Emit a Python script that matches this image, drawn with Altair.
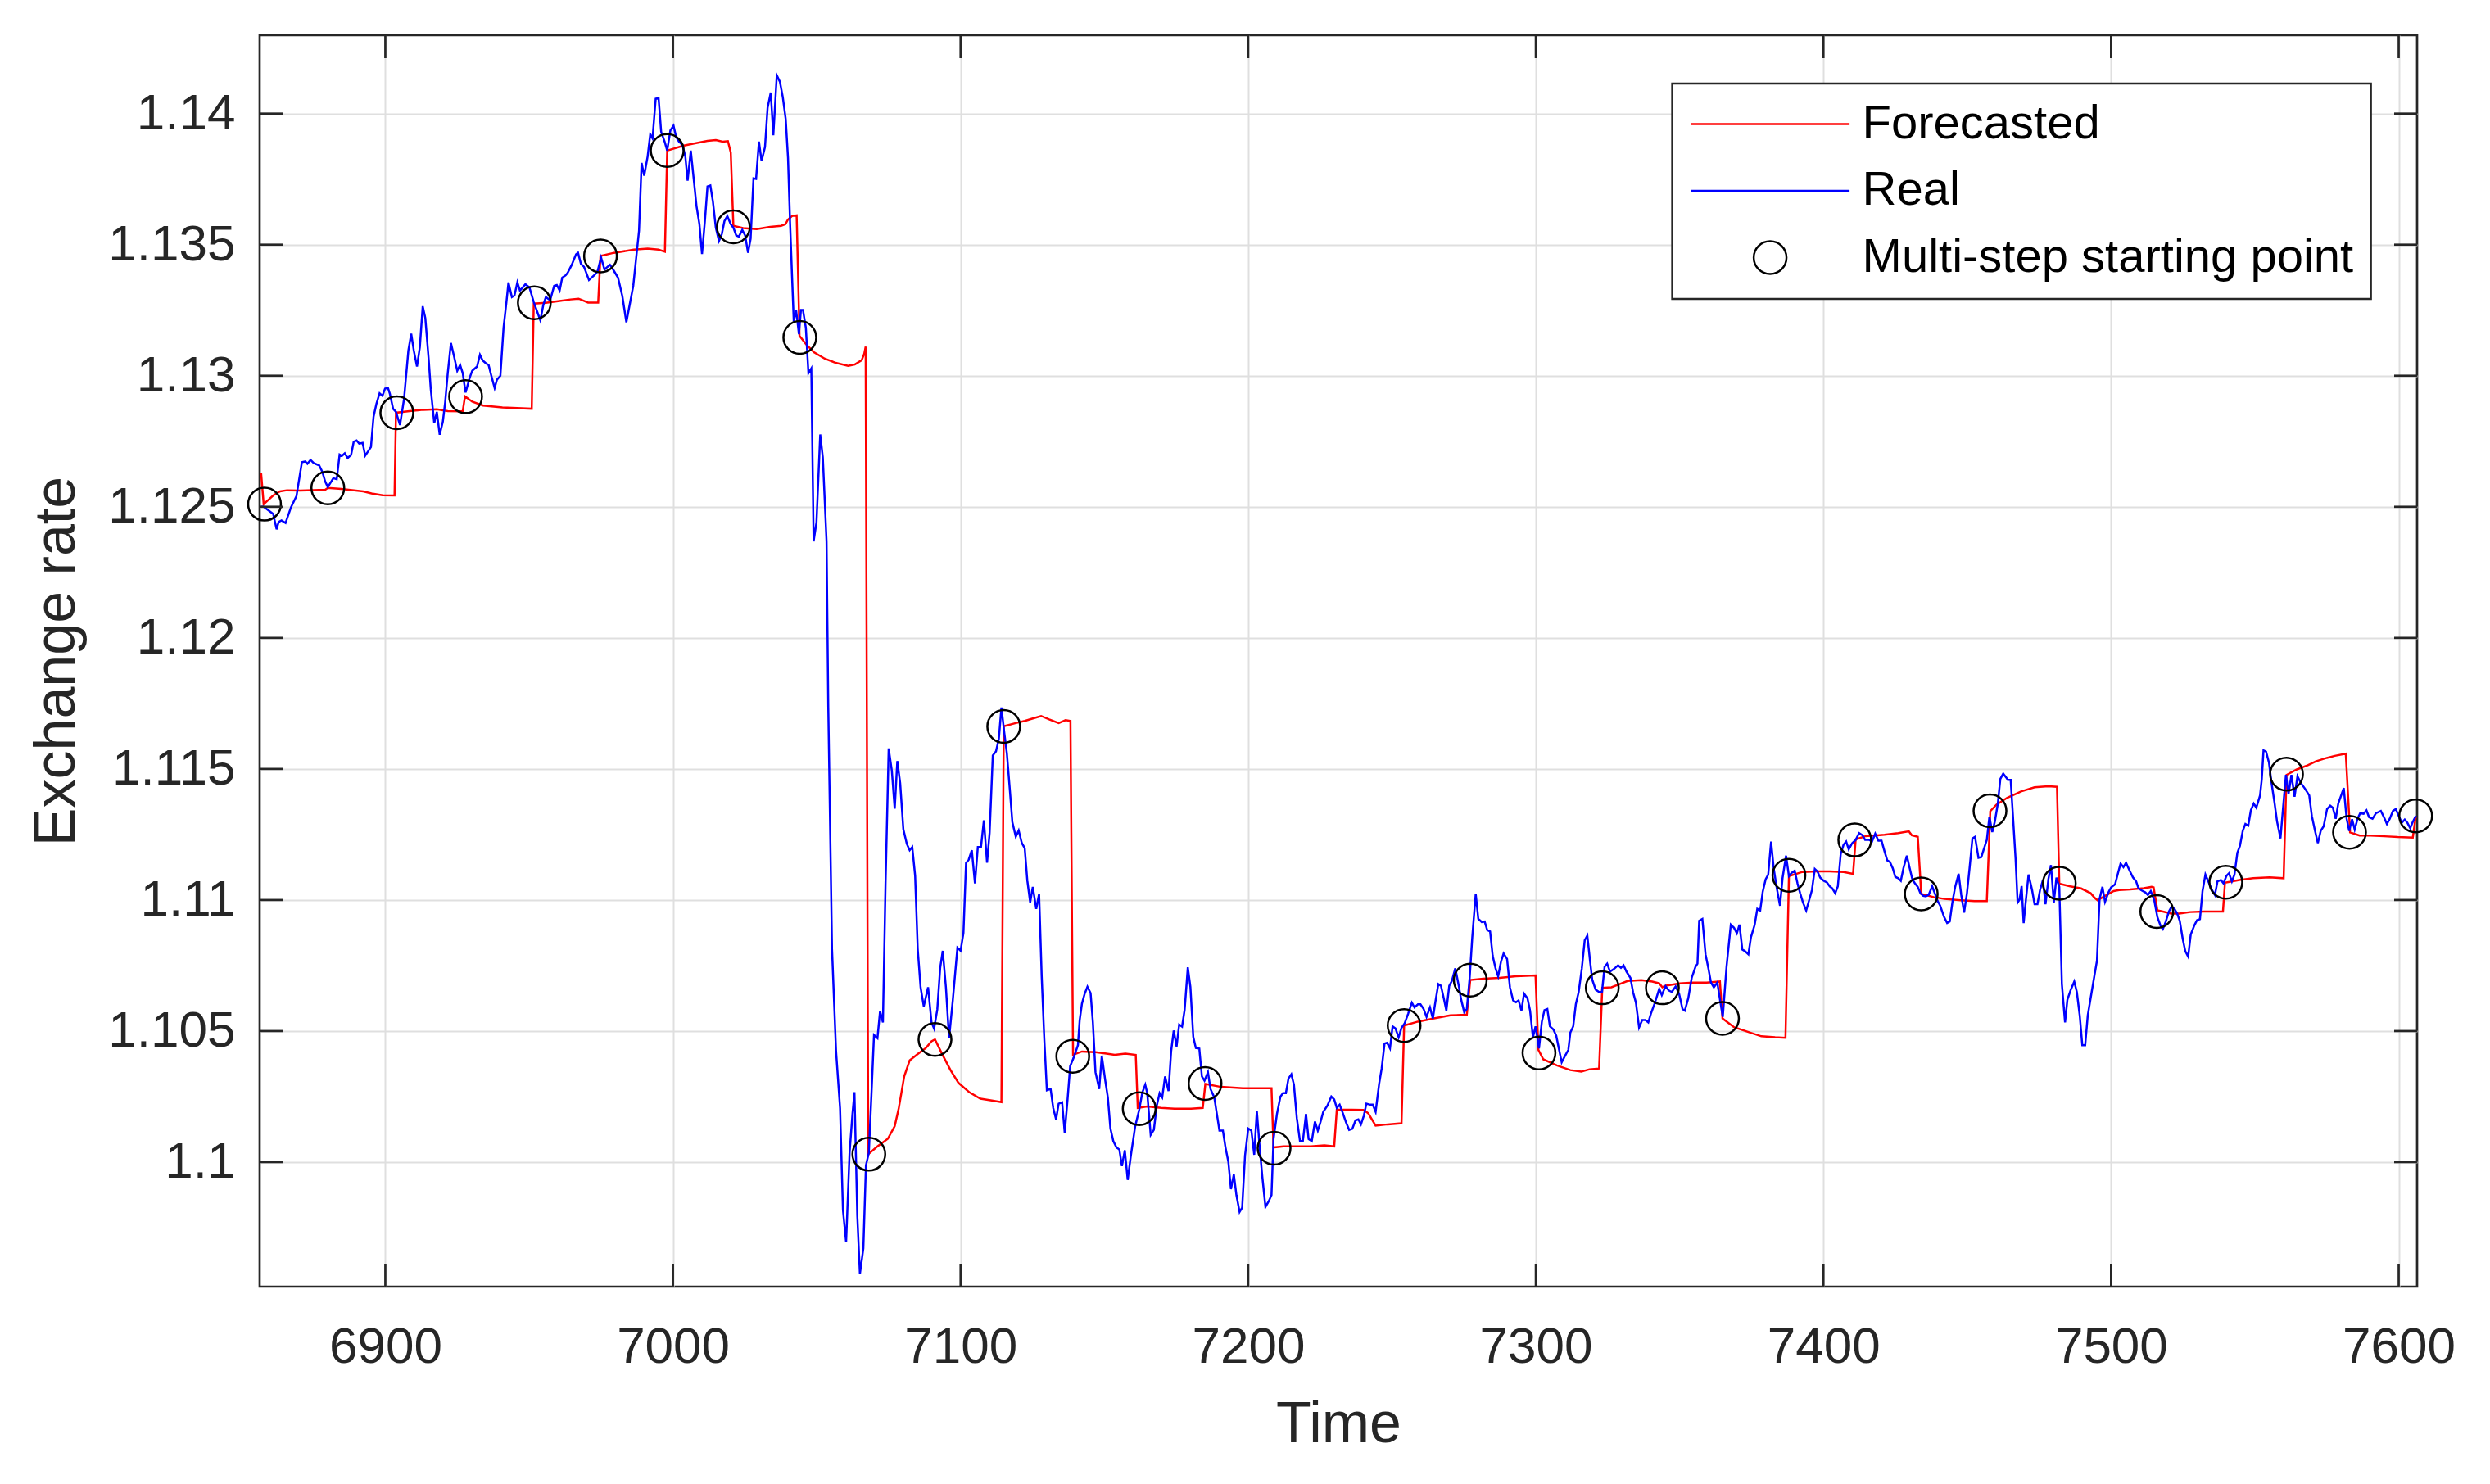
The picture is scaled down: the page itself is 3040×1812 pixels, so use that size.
import altair as alt
import pandas as pd

# ---------------- data ----------------
real_t = [6856.8, 6857.7, 6861.0, 6862.2, 6862.9, 6863.9, 6865.3, 6867.2, 6869.1, 6871.0, 6872.2, 6872.9, 6874.0, 6875.1, 6877.0, 6878.1, 6879.1, 6880.0, 6881.9, 6883.1, 6884.1, 6884.9, 6885.9, 6886.9, 6888.1, 6889.0, 6890.0, 6890.9, 6892.1, 6893.0, 6895.0, 6895.9, 6896.9, 6898.0, 6899.0, 6899.9, 6900.9, 6901.6, 6902.7, 6903.7, 6905.1, 6906.5, 6908.0, 6909.0, 6909.9, 6911.0, 6912.0, 6913.0, 6913.9, 6915.1, 6915.8, 6916.5, 6917.0, 6917.9, 6918.9, 6920.0, 6920.8, 6921.7, 6922.8, 6923.8, 6925.0, 6926.0, 6926.9, 6927.9, 6929.3, 6930.2, 6931.9, 6932.9, 6933.8, 6935.0, 6935.9, 6936.9, 6938.0, 6938.8, 6940.0, 6941.1, 6942.1, 6942.8, 6944.0, 6944.9, 6945.9, 6946.8, 6947.8, 6948.7, 6950.1, 6951.6, 6953.9, 6954.9, 6955.8, 6957.3, 6958.7, 6959.6, 6960.6, 6961.5, 6962.7, 6963.4, 6964.8, 6966.3, 6967.0, 6968.0, 6969.1, 6970.8, 6972.9, 6973.8, 6975.0, 6976.2, 6977.2, 6978.1, 6979.1, 6980.9, 6982.4, 6983.8,
          6986.2, 6988.2, 6989.1, 6990.0, 6991.2, 6992.1, 6992.9, 6994.0, 6995.0, 6995.9, 6997.1, 6998.0, 6999.1, 7000.2, 7001.1, 7002.1, 7003.3, 7004.3, 7005.1, 7006.2, 7007.1, 7008.2, 7009.2, 7010.1, 7011.1, 7012.0, 7013.0, 7013.9, 7014.9, 7016.0, 7017.0, 7017.9, 7018.9, 7020.1, 7021.0, 7022.0, 7022.9, 7024.1, 7025.1, 7026.1, 7027.0, 7028.0, 7028.9, 7029.9, 7030.8, 7032.0, 7032.9, 7034.0, 7034.9, 7036.1, 7037.2, 7038.2, 7039.2, 7040.0, 7040.7, 7041.4, 7042.0, 7042.8, 7043.8, 7044.5, 7045.2, 7046.2, 7047.1, 7048.1,
          7048.9, 7049.9, 7051.2, 7052.1, 7053.4, 7054.0, 7055.3, 7056.7, 7058.1, 7059.1, 7060.2, 7061.4, 7062.4, 7063.1, 7064.1, 7065.0, 7066.2, 7067.1, 7068.1, 7069.0, 7069.9, 7071.1, 7072.0, 7073.0, 7073.9, 7075.0, 7076.1, 7077.1, 7078.0, 7079.0, 7080.1, 7081.3, 7082.3, 7083.2, 7084.2, 7085.1, 7086.1, 7087.2, 7088.7, 7089.9, 7090.8, 7091.9, 7092.9, 7093.8, 7094.9, 7096.0, 7097.3, 7098.9, 7100.0, 7101.0, 7101.9, 7102.8, 7103.9, 7105.0, 7106.0, 7107.1,
          7108.1, 7109.2, 7110.1, 7111.2, 7112.3, 7113.3, 7114.2, 7115.2, 7116.1, 7117.1, 7118.0, 7119.2, 7120.2, 7121.3, 7122.3, 7123.2, 7124.2, 7125.1, 7126.3, 7127.3, 7128.2, 7129.1, 7130.0, 7131.3, 7132.2, 7133.2, 7134.1, 7135.3, 7136.2, 7137.2, 7138.1, 7139.3, 7140.8, 7141.4, 7142.2, 7143.1, 7144.1, 7145.2, 7146.0, 7146.9, 7148.2, 7149.1, 7150.3, 7151.2, 7152.1, 7153.1, 7154.2, 7155.2, 7156.1, 7157.1, 7158.1, 7159.2, 7160.7, 7162.1, 7163.2, 7164.2, 7164.9, 7166.1, 7167.2, 7168.2, 7169.2, 7170.1, 7171.1, 7172.3, 7173.2, 7174.1, 7175.1, 7176.0, 7177.0, 7177.9, 7179.0, 7179.9, 7180.9, 7181.8, 7183.0, 7183.9, 7184.8, 7186.0, 7186.9, 7188.2, 7189.1, 7190.0, 7191.2, 7192.1, 7193.1, 7194.0, 7195.0, 7195.9, 7197.0, 7197.9, 7198.9, 7200.0, 7201.1, 7202.1, 7203.0, 7204.0, 7204.9, 7206.0, 7207.1, 7208.1, 7208.8, 7210.0, 7211.2, 7212.1, 7213.1, 7214.0, 7215.0, 7215.9, 7216.9, 7218.0, 7219.0, 7220.1, 7221.0, 7222.1, 7223.2, 7224.2, 7225.1, 7226.1, 7227.5, 7228.9, 7229.9, 7230.8, 7231.8, 7233.0, 7234.0, 7235.1,
          7236.2, 7237.3, 7238.3, 7239.2, 7240.2, 7241.1, 7242.4, 7243.3, 7244.3, 7245.5, 7246.4, 7247.4, 7248.3, 7249.3, 7250.2, 7251.2, 7252.3, 7253.3, 7254.4, 7255.6, 7256.9, 7257.8, 7259.0, 7259.9, 7261.0, 7262.0, 7263.2, 7264.2, 7265.1, 7266.1, 7267.0, 7268.0, 7268.9, 7269.9, 7270.8, 7272.0, 7273.2, 7274.0, 7275.1, 7276.0, 7277.0, 7277.9, 7279.1, 7280.0, 7281.2, 7282.2, 7283.1, 7284.1, 7285.0, 7286.0, 7286.9, 7287.9, 7288.8, 7290.0, 7291.0, 7292.1, 7293.1, 7294.0, 7295.0, 7295.9, 7297.1, 7298.0, 7299.0, 7299.9, 7301.1, 7302.1, 7303.0, 7304.0, 7304.9, 7306.1, 7307.1, 7308.1, 7309.0, 7310.1, 7311.3, 7312.0, 7313.0, 7313.9, 7314.9, 7316.0, 7317.0, 7317.9, 7318.9, 7319.6, 7320.8, 7322.0, 7323.0, 7323.9, 7324.8, 7325.8, 7327.2, 7328.6, 7329.6, 7330.5, 7331.5, 7332.9, 7333.8, 7334.8, 7335.9, 7337.0, 7338.1, 7339.1, 7340.0, 7341.4, 7342.9, 7343.8, 7345.1, 7346.2, 7347.3, 7348.6, 7349.8, 7351.0, 7351.8, 7353.0, 7354.2, 7355.5, 7356.2, 7356.8, 7357.9, 7359.0, 7360.0, 7360.9, 7361.9, 7363.1, 7364.2, 7365.0,
          7366.3, 7367.8, 7368.9, 7369.9, 7370.8, 7371.8, 7372.7, 7373.9, 7374.8, 7376.1, 7377.0, 7378.0, 7378.9, 7379.9, 7380.8, 7381.8, 7382.7, 7383.7, 7384.9, 7385.8, 7387.0, 7388.0, 7388.9, 7390.0, 7391.0, 7391.9, 7392.9, 7394.0, 7395.1, 7396.0, 7397.0, 7397.9, 7398.9, 7400.1, 7401.2, 7402.2, 7403.1, 7404.1, 7405.0, 7406.0, 7407.0, 7407.9, 7408.8, 7410.0, 7411.2, 7412.4, 7413.6, 7414.5, 7416.0, 7416.9, 7418.0, 7419.1, 7420.2, 7421.2, 7422.2, 7423.1, 7424.1, 7425.0, 7426.0, 7426.9, 7427.8, 7429.0, 7430.0, 7430.9, 7431.8, 7432.8, 7433.7, 7434.7, 7435.6, 7436.6, 7437.8, 7438.7, 7439.7, 7440.6, 7441.9, 7443.0, 7443.9, 7444.9, 7445.8, 7447.0, 7447.9, 7448.9, 7449.9, 7450.8, 7451.8, 7452.7, 7453.9, 7454.9, 7455.8, 7456.8, 7457.7, 7458.7, 7459.6, 7460.6, 7461.5, 7462.5, 7463.5, 7464.1, 7465.1, 7465.8, 7466.8, 7467.5, 7468.2, 7468.9, 7469.6, 7470.4, 7471.3, 7472.5, 7473.4, 7474.4, 7475.3, 7476.3, 7477.2, 7478.2, 7479.1, 7480.1, 7481.0, 7482.0, 7482.9, 7484.0, 7484.8, 7485.9, 7487.2, 7488.1, 7489.1, 7490.0, 7491.0, 7491.9,
          7493.8, 7495.1, 7496.0, 7497.0, 7497.9, 7499.1, 7500.0, 7501.4, 7502.4, 7503.3, 7504.3, 7505.2, 7506.4, 7507.6, 7508.7, 7509.5, 7510.4, 7511.9, 7512.8, 7513.8, 7515.0, 7516.1, 7517.3, 7518.0, 7519.0, 7520.1, 7520.9, 7522.0, 7523.0, 7523.9, 7524.9, 7525.8, 7526.8, 7527.7, 7529.0, 7529.9, 7530.9, 7531.8, 7532.8, 7534.0, 7535.0, 7536.1, 7537.0, 7538.2, 7539.1, 7540.1, 7541.0, 7542.0, 7542.9, 7543.9, 7544.8, 7545.8, 7546.7, 7547.7, 7548.6, 7549.6, 7550.5, 7551.8, 7552.4, 7553.0, 7553.9, 7554.9, 7555.8, 7556.8, 7557.7, 7558.9, 7559.8, 7560.8, 7561.7, 7562.7, 7563.8, 7564.8, 7566.0, 7567.4, 7568.9, 7569.8, 7570.8, 7571.9, 7572.9, 7573.9, 7575.1, 7576.2, 7577.1, 7578.1, 7579.0, 7580.0, 7580.9, 7581.9, 7582.8, 7583.8, 7584.7, 7585.7, 7586.6, 7587.8, 7588.8, 7589.7, 7590.9, 7592.1, 7593.8, 7595.0, 7595.9, 7596.9, 7598.0, 7599.0, 7600.0, 7601.1, 7602.1, 7603.0, 7604.0, 7604.9, 7606.0]

real_v = [1.12500, 1.12500, 1.12473, 1.12414, 1.12442, 1.12448, 1.12438, 1.12498, 1.12541, 1.12670, 1.12673, 1.12664, 1.12679, 1.12667, 1.12658, 1.12633, 1.12596, 1.12575, 1.12609, 1.12605, 1.12699, 1.12694, 1.12704, 1.12686, 1.12698, 1.12748, 1.12753, 1.12741, 1.12744, 1.12695, 1.12728, 1.12843, 1.12893, 1.12933, 1.12923, 1.12951, 1.12954, 1.12930, 1.12874, 1.12862, 1.12812, 1.12911, 1.13096, 1.13160, 1.13096, 1.13035, 1.13109, 1.13265, 1.13220, 1.13059, 1.12948, 1.12874, 1.12819, 1.12862, 1.12775, 1.12825, 1.12899, 1.13010, 1.13125, 1.13078, 1.13019, 1.13041, 1.13010, 1.12936, 1.12991, 1.13019, 1.13035, 1.13080, 1.13059, 1.13047, 1.13041, 1.12998, 1.12953, 1.12985, 1.13000, 1.13183, 1.13281, 1.13356, 1.13300, 1.13306, 1.13356, 1.13325, 1.13337, 1.13349, 1.13337, 1.13281, 1.13211, 1.13269, 1.13300, 1.13288, 1.13343, 1.13346, 1.13325, 1.13374, 1.13383, 1.13393, 1.13423, 1.13463, 1.13469, 1.13427, 1.13415, 1.13365, 1.13386, 1.13399, 1.13451, 1.13405, 1.13415, 1.13423, 1.13407, 1.13374, 1.13304, 1.13204,
          1.13343, 1.13553, 1.13812, 1.13763, 1.13837, 1.13921, 1.13905, 1.14057, 1.14059, 1.13930, 1.13893, 1.13859, 1.13936, 1.13954, 1.13911, 1.13893, 1.13880, 1.13837, 1.13744, 1.13859, 1.13763, 1.13646, 1.13578, 1.13464, 1.13590, 1.13722, 1.13726, 1.13664, 1.13565, 1.13514, 1.13541, 1.13590, 1.13609, 1.13578, 1.13565, 1.13535, 1.13531, 1.13556, 1.13535, 1.13469, 1.13522, 1.13753, 1.13751, 1.13893, 1.13819, 1.13872, 1.14022, 1.14080, 1.13917, 1.14146, 1.14121, 1.14062, 1.13979, 1.13831, 1.13590, 1.13380, 1.13207, 1.13251, 1.13158, 1.13251, 1.13251, 1.13183, 1.13010, 1.13028,
          1.12368, 1.12441, 1.12776, 1.12689, 1.12368, 1.11736, 1.10813, 1.10424, 1.10206, 1.09817, 1.09695, 1.10035, 1.10182, 1.10267, 1.09793, 1.09573, 1.09671, 1.09988, 1.10035, 1.10255, 1.10485, 1.10473, 1.10575, 1.10533, 1.11056, 1.11578, 1.11493, 1.11348, 1.11530, 1.11445, 1.11270, 1.11214, 1.11190, 1.11202, 1.11092, 1.10813, 1.10667, 1.10594, 1.10667, 1.10533, 1.10509, 1.10582, 1.10740, 1.10806, 1.10667, 1.10473, 1.10618, 1.10818, 1.10806, 1.10874, 1.11141, 1.11153, 1.11190, 1.11063, 1.11202, 1.11202,
          1.11304, 1.11142, 1.11257, 1.11551, 1.11567, 1.11614, 1.11734, 1.11638, 1.11559, 1.11424, 1.11297, 1.11241, 1.11265, 1.11217, 1.11198, 1.11074, 1.10991, 1.11050, 1.10966, 1.11023, 1.10708, 1.10470, 1.10274, 1.10279, 1.10207, 1.10163, 1.10223, 1.10228, 1.10112, 1.10239, 1.10366, 1.10398, 1.10446, 1.10541, 1.10605, 1.10641, 1.10669, 1.10645, 1.10533, 1.10343, 1.10279, 1.10406, 1.10311, 1.10247, 1.10128, 1.10080, 1.10056, 1.10048, 1.09985, 1.10045, 1.09932, 1.10025, 1.10136, 1.10200, 1.10266, 1.10295, 1.10263, 1.10104, 1.10123, 1.10215, 1.10263, 1.10247, 1.10327, 1.10271, 1.10422, 1.10502, 1.10441, 1.10525, 1.10517, 1.10581, 1.10743, 1.10669, 1.10478, 1.10435, 1.10433, 1.10327, 1.10311, 1.10343, 1.10279, 1.10247, 1.10184, 1.10120, 1.10120, 1.10056, 1.10001, 1.09897, 1.09953, 1.09874, 1.09810, 1.09826, 1.10025, 1.10128, 1.10120, 1.10028, 1.10196, 1.10056, 1.09945, 1.09829, 1.09850, 1.09874, 1.10088, 1.10184, 1.10250, 1.10263, 1.10263, 1.10319, 1.10335, 1.10295, 1.10168, 1.10080, 1.10080, 1.10184, 1.10088, 1.10080, 1.10155, 1.10120, 1.10152, 1.10192, 1.10215, 1.10250, 1.10239, 1.10207, 1.10219, 1.10184, 1.10152, 1.10123,
          1.10127, 1.10159, 1.10163, 1.10144, 1.10177, 1.10223, 1.10219, 1.10219, 1.10192, 1.10297, 1.10357, 1.10452, 1.10455, 1.10434, 1.10518, 1.10510, 1.10476, 1.10512, 1.10530, 1.10566, 1.10608, 1.10590, 1.10602, 1.10602, 1.10584, 1.10554, 1.10590, 1.10548, 1.10613, 1.10679, 1.10673, 1.10625, 1.10578, 1.10673, 1.10691, 1.10739, 1.10673, 1.10622, 1.10572, 1.10584, 1.10703, 1.10858, 1.11023, 1.10928, 1.10916, 1.10918, 1.10885, 1.10880, 1.10787, 1.10739, 1.10709, 1.10765, 1.10796, 1.10775, 1.10667, 1.10617, 1.10610, 1.10617, 1.10578, 1.10643, 1.10625, 1.10578, 1.10476, 1.10518, 1.10434, 1.10536, 1.10580, 1.10584, 1.10518, 1.10506, 1.10482, 1.10428, 1.10381, 1.10404, 1.10428, 1.10494, 1.10518, 1.10602, 1.10649, 1.10739, 1.10846, 1.10864, 1.10763, 1.10697, 1.10658, 1.10649, 1.10649, 1.10745, 1.10757, 1.10727, 1.10737, 1.10751, 1.10741, 1.10751, 1.10727, 1.10703, 1.10649, 1.10608, 1.10514, 1.10542, 1.10542, 1.10533, 1.10566, 1.10608, 1.10661, 1.10637, 1.10671, 1.10655, 1.10649, 1.10670, 1.10643, 1.10584, 1.10578, 1.10625, 1.10703, 1.10745, 1.10757, 1.10921, 1.10928, 1.10793, 1.10739, 1.10685, 1.10667, 1.10685, 1.10608, 1.10554,
          1.10745, 1.10906, 1.10894, 1.10873, 1.10906, 1.10811, 1.10805, 1.10793, 1.10858, 1.10906, 1.10966, 1.10960, 1.11032, 1.11079, 1.11097, 1.11223, 1.11121, 1.11050, 1.10978, 1.11085, 1.11169, 1.11091, 1.11103, 1.11112, 1.11062, 1.11026, 1.10990, 1.10960, 1.11002, 1.11038, 1.11118, 1.11109, 1.11085, 1.11073, 1.11067, 1.11052, 1.11044, 1.11026, 1.11052, 1.11175, 1.11211, 1.11223, 1.11193, 1.11217, 1.11229, 1.11255, 1.11247, 1.11229, 1.11229, 1.11223, 1.11253, 1.11226, 1.11226, 1.11187, 1.11151, 1.11145, 1.11121, 1.11088, 1.11083, 1.11073, 1.11121, 1.11169, 1.11121, 1.11079, 1.11064, 1.11050, 1.11026, 1.11016, 1.11014, 1.11020, 1.11052, 1.11026, 1.10996, 1.10978, 1.10936, 1.10912, 1.10918, 1.10996, 1.11050, 1.11100, 1.11020, 1.10952, 1.11026, 1.11121, 1.11235, 1.11241, 1.11161, 1.11164, 1.11195, 1.11229, 1.11318, 1.11259, 1.11300, 1.11366, 1.11462, 1.11482, 1.11468, 1.11458, 1.11458, 1.11336, 1.11157, 1.10990, 1.11002, 1.11053, 1.10912, 1.11002, 1.11097, 1.11040, 1.10984, 1.10984, 1.11038, 1.11076, 1.10984, 1.11079, 1.11133, 1.10990, 1.11085, 1.11050, 1.10679, 1.10533, 1.10619, 1.10655, 1.10689, 1.10649, 1.10560, 1.10446, 1.10446, 1.10560,
          1.10685, 1.10769, 1.11003, 1.11050, 1.10993, 1.11029, 1.11048, 1.11060, 1.11102, 1.11139, 1.11125, 1.11142, 1.11113, 1.11086, 1.11071, 1.11045, 1.11038, 1.11029, 1.11019, 1.11034, 1.11000, 1.10935, 1.10899, 1.10889, 1.10917, 1.10956, 1.10972, 1.10967, 1.10948, 1.10920, 1.10852, 1.10805, 1.10784, 1.10868, 1.10904, 1.10923, 1.10927, 1.11034, 1.11097, 1.11066, 1.11040, 1.11019, 1.11071, 1.11076, 1.11063, 1.11092, 1.11102, 1.11071, 1.11097, 1.11180, 1.11206, 1.11264, 1.11290, 1.11284, 1.11342, 1.11368, 1.11352, 1.11399, 1.11461, 1.11571, 1.11566, 1.11524, 1.11446, 1.11373, 1.11300, 1.11235, 1.11352, 1.11477, 1.11404, 1.11477, 1.11394, 1.11472, 1.11446, 1.11425, 1.11399, 1.11321, 1.11269, 1.11217, 1.11264, 1.11281, 1.11347, 1.11360, 1.11352, 1.11310, 1.11368, 1.11399, 1.11427, 1.11310, 1.11264, 1.11308, 1.11269, 1.11310, 1.11331, 1.11329, 1.11342, 1.11316, 1.11310, 1.11331, 1.11340, 1.11313, 1.11290, 1.11310, 1.11340, 1.11347, 1.11321, 1.11295, 1.11307, 1.11295, 1.11274, 1.11298, 1.11321]

forecast_t = [6856.8, 6857.7, 6861.0, 6863.4, 6865.8, 6870.5, 6879.1, 6880.0, 6884.7, 6892.3, 6895.2, 6899.0, 6903.2, 6903.7, 6908.4, 6913.2, 6917.9, 6921.7, 6926.9, 6927.7, 6930.2, 6934.0, 6940.7, 6950.9, 6951.6, 6955.8, 6960.6, 6964.4, 6967.2, 6970.5, 6974.0, 6974.8, 6979.5, 6986.4, 6991.2, 6995.0, 6997.2, 6998.0, 7003.5, 7007.3, 7012.0, 7014.9, 7017.3, 7019.1, 7020.1, 7021.0, 7024.4, 7029.1, 7033.8, 7037.6, 7039.1, 7040.0, 7041.4, 7043.0, 7044.0, 7046.2, 7049.0, 7052.8, 7056.6, 7060.9, 7063.2, 7065.6, 7066.5, 7067.0, 7067.9, 7071.0, 7074.7, 7077.1, 7078.5, 7080.4, 7082.3, 7085.1, 7088.0, 7089.9, 7091.1, 7093.6, 7096.5, 7099.3, 7103.1, 7106.9, 7110.9, 7114.2, 7115.0, 7119.2, 7122.3, 7125.6, 7128.0, 7130.8, 7134.1, 7136.5, 7138.2, 7139.1, 7142.2, 7146.9, 7150.7, 7153.6, 7157.3, 7160.9, 7161.6, 7164.9, 7169.7, 7174.4, 7180.1, 7184.2, 7185.1, 7190.5, 7198.1, 7202.8, 7208.1, 7208.8, 7212.3, 7221.8, 7226.5, 7229.9, 7230.8, 7236.0, 7240.0, 7241.7, 7244.3, 7248.5, 7253.3, 7254.2, 7259.0, 7264.6, 7270.3, 7276.0, 7277.2, 7281.7, 7287.4, 7293.1, 7299.9, 7300.9, 7302.6, 7307.3, 7312.0, 7315.8, 7318.7, 7322.0, 7323.1, 7326.3, 7329.1, 7331.9, 7336.7, 7340.5, 7342.9, 7344.0, 7345.2, 7350.0, 7354.7, 7359.4, 7364.0, 7364.9, 7368.9, 7373.7, 7378.4, 7383.2, 7386.8, 7388.0, 7392.7, 7397.4, 7402.2, 7407.0, 7410.3, 7411.2, 7414.5, 7421.2, 7426.0, 7429.7, 7430.7, 7432.8, 7434.0, 7438.3, 7442.1, 7447.8, 7452.5, 7456.8, 7458.0, 7460.1, 7463.9, 7468.7, 7473.4, 7478.2, 7481.2, 7482.0, 7485.8, 7489.6, 7492.9, 7494.3, 7495.3, 7497.2, 7500.9, 7502.8, 7506.6, 7511.4, 7514.1, 7514.8, 7516.1, 7518.0, 7520.9, 7523.7, 7527.5, 7532.3, 7538.9, 7539.6, 7544.6, 7549.4, 7555.1, 7560.0, 7561.0, 7564.6, 7568.4, 7571.2, 7575.0, 7577.8, 7581.6, 7583.1, 7586.4, 7590.2, 7595.0, 7599.7, 7604.9, 7605.9]

forecast_v = [1.12630, 1.12510, 1.12543, 1.12559, 1.12563, 1.12562, 1.12565, 1.12572, 1.12568, 1.12559, 1.12551, 1.12544, 1.12543, 1.12859, 1.12865, 1.12870, 1.12872, 1.12865, 1.12864, 1.12921, 1.12901, 1.12886, 1.12879, 1.12874, 1.13275, 1.13278, 1.13285, 1.13291, 1.13294, 1.13279, 1.13279, 1.13457, 1.13469, 1.13481, 1.13485, 1.13481, 1.13473, 1.13859, 1.13877, 1.13886, 1.13896, 1.13899, 1.13893, 1.13895, 1.13852, 1.13572, 1.13563, 1.13559, 1.13568, 1.13572, 1.13578, 1.13596, 1.13609, 1.13612, 1.13152, 1.13121, 1.13090, 1.13065, 1.13049, 1.13038, 1.13043, 1.13059, 1.13084, 1.13111, 1.10030, 1.10059, 1.10089, 1.10137, 1.10205, 1.10327, 1.10388, 1.10412, 1.10436, 1.10461, 1.10468, 1.10412, 1.10351, 1.10302, 1.10266, 1.10242, 1.10235, 1.10229, 1.11663, 1.11675, 1.11683, 1.11694, 1.11702, 1.11689, 1.11675, 1.11686, 1.11683, 1.10409, 1.10422, 1.10419, 1.10414, 1.10409, 1.10414, 1.10409, 1.10207, 1.10212, 1.10207, 1.10204, 1.10204, 1.10207, 1.10298, 1.10287, 1.10282, 1.10282, 1.10282, 1.10056, 1.10060, 1.10060, 1.10064, 1.10060, 1.10200, 1.10200, 1.10199, 1.10187, 1.10139, 1.10144, 1.10148, 1.10521, 1.10536, 1.10548, 1.10560, 1.10562, 1.10695, 1.10700, 1.10703, 1.10709, 1.10712, 1.10428, 1.10392, 1.10369, 1.10351, 1.10345, 1.10354, 1.10357, 1.10665, 1.10667, 1.10679, 1.10691, 1.10694, 1.10689, 1.10682, 1.10667, 1.10673, 1.10682, 1.10685, 1.10685, 1.10689, 1.10548, 1.10515, 1.10497, 1.10480, 1.10476, 1.10474, 1.11091, 1.11107, 1.11109, 1.11109, 1.11107, 1.11100, 1.11231, 1.11243, 1.11249, 1.11255, 1.11262, 1.11247, 1.11241, 1.11023, 1.11011, 1.11004, 1.10999, 1.10996, 1.10996, 1.11339, 1.11363, 1.11390, 1.11414, 1.11430, 1.11434, 1.11432, 1.11062, 1.11052, 1.11044, 1.11026, 1.11008, 1.10999, 1.11011, 1.11034, 1.11038, 1.11040, 1.11045, 1.11050, 1.11048, 1.10961, 1.10956, 1.10948, 1.10948, 1.10954, 1.10956, 1.10956, 1.11066, 1.11076, 1.11083, 1.11086, 1.11083, 1.11477, 1.11498, 1.11514, 1.11529, 1.11542, 1.11550, 1.11558, 1.11258, 1.11246, 1.11246, 1.11243, 1.11240, 1.11238, 1.11316]

start_t = [6858.0, 6880.0, 6904.0, 6927.9, 6951.8, 6974.8, 6998.0, 7021.0, 7044.1, 7068.1, 7091.1, 7115.0, 7139.0, 7162.1, 7185.0, 7209.0, 7254.2, 7277.2, 7301.1, 7323.1, 7344.0, 7364.9, 7388.0, 7410.9, 7434.0, 7457.9, 7482.0, 7515.9, 7539.9, 7561.0, 7582.9, 7605.9]
start_v = [1.12510, 1.12572, 1.12859, 1.12920, 1.13278, 1.13457, 1.13859, 1.13568, 1.13146, 1.10030, 1.10468, 1.11662, 1.10404, 1.10204, 1.10300, 1.10053, 1.10521, 1.10694, 1.10416, 1.10665, 1.10665, 1.10548, 1.11094, 1.11229, 1.11023, 1.11340, 1.11064, 1.10956, 1.11068, 1.11480, 1.11258, 1.11321]

x_ticks = [6900, 7000, 7100, 7200, 7300, 7400, 7500, 7600]
y_ticks = [1.1, 1.105, 1.11, 1.115, 1.12, 1.125, 1.13, 1.135, 1.14]
series_names = ["Forecasted", "Real", "Multi-step starting point"]
series_colors = ["#ff0000", "#0000ff", "#000000"]
series_shapes = ["stroke", "stroke", "circle"]
series_sizes = [37636, 37636, 1600]   # legend line length 194 px, circle diameter 40 px

# ---------------- layout / style ----------------
W, H = 2634, 1528
X_DOMAIN = [6856.3, 7606.4]
Y_DOMAIN = [1.09525, 1.14299]
FONT = "Liberation Sans"
AX = "#262626"
TICK_LEN = 28

real_df = pd.DataFrame({"t": real_t, "v": real_v, "series": series_names[1]})
fc_df = pd.DataFrame({"t": forecast_t, "v": forecast_v, "series": series_names[0]})
st_df = pd.DataFrame({"t": start_t, "v": start_v, "series": series_names[2]})
xt_df = pd.DataFrame({"t": x_ticks})
yt_df = pd.DataFrame({"v": y_ticks})

xs = alt.Scale(domain=X_DOMAIN, nice=False, zero=False)
ys = alt.Scale(domain=Y_DOMAIN, nice=False, zero=False)

x_axis = alt.Axis(values=x_ticks, format="d", title="Time", grid=True, ticks=False, tickSize=0,
                  domain=False, labelPadding=43, titleY=189, titleBaseline="alphabetic")
y_axis = alt.Axis(values=y_ticks, format=".3~f", title="Exchange rate", grid=True, ticks=False,
                  tickSize=0, domain=False, labelPadding=30, titleX=-227, titleBaseline="alphabetic")

x_enc = alt.X("t:Q", scale=xs, axis=x_axis)
y_enc = alt.Y("v:Q", scale=ys, axis=y_axis)

legend = alt.Legend(
    title=None, orient="none", legendX=1724.6, legendY=59, padding=21, rowPadding=22.5,
    clipHeight=57, symbolStrokeWidth=2.5, symbolFillColor="transparent",
    labelOffset=14, labelFontSize=58, labelFont=FONT, labelColor="#000000", labelLimit=2000,
    strokeColor=AX, fillColor="#ffffff",
)
color = alt.Color("series:N", scale=alt.Scale(domain=series_names, range=series_colors), legend=legend)
shape = alt.Shape("series:N", scale=alt.Scale(domain=series_names, range=series_shapes), legend=legend)
size = alt.Size("series:N", scale=alt.Scale(type="ordinal", domain=series_names, range=series_sizes), legend=legend)

fc_line = alt.Chart(fc_df).mark_line(strokeWidth=2.5, clip=True).encode(x=x_enc, y=y_enc, color=color, order="t:Q")
real_line = alt.Chart(real_df).mark_line(strokeWidth=2.5, clip=True).encode(x=x_enc, y=y_enc, color=color, order="t:Q")
points = alt.Chart(st_df).mark_point(filled=False, strokeWidth=2.5, opacity=1).encode(
    x=x_enc, y=y_enc, color=color, shape=shape, size=size)

tick_style = dict(color=AX, strokeWidth=2.7)
bottom_ticks = alt.Chart(xt_df).mark_rule(**tick_style).encode(x=x_enc, y=alt.value(H), y2=alt.value(H - TICK_LEN))
top_ticks = alt.Chart(xt_df).mark_rule(**tick_style).encode(x=x_enc, y=alt.value(0), y2=alt.value(TICK_LEN))
left_ticks = alt.Chart(yt_df).mark_rule(**tick_style).encode(y=y_enc, x=alt.value(0), x2=alt.value(TICK_LEN))
right_ticks = alt.Chart(yt_df).mark_rule(**tick_style).encode(y=y_enc, x=alt.value(W), x2=alt.value(W - TICK_LEN))

chart = alt.layer(fc_line, real_line, points, bottom_ticks, top_ticks, left_ticks, right_ticks).properties(
    width=W, height=H,
    autosize=alt.AutoSizeParams(type="none"),
    padding={"left": 309, "top": 35, "right": 81, "bottom": 233},
    background="#ffffff",
).configure_view(
    stroke=AX, strokeWidth=2.7
).configure_axis(
    gridColor="#dfdfdf", gridWidth=2, gridOpacity=1,
    labelFont=FONT, labelFontSize=62, labelColor=AX,
    titleFont=FONT, titleFontSize=70, titleColor=AX, titleFontWeight="normal",
).configure_legend(
    strokeWidth=2.5
)

chart.save("out.html", embed_options={"renderer": "svg", "actions": False})
